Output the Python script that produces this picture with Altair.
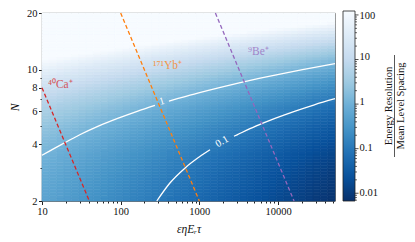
import altair as alt
import pandas as pd
import numpy as np

SERIF = "Liberation Serif"

# ---------------- data ----------------
x_range = [10, 53000]
n_range = [2, 20]

# log10(ratio) at the left edge (x = 10), one value per N row (bottom -> top)
row_level = [-0.264, -0.252, -0.240, -0.227, -0.212, -0.197, -0.181, -0.164,
             -0.146, -0.127, -0.107, -0.085, -0.063, -0.039, -0.014, 0.013,
             0.041, 0.070, 0.100, 0.132, 0.166, 0.202, 0.239, 0.277,
             0.318, 0.360, 0.405, 0.451, 0.500, 0.550, 0.603, 0.659,
             0.716, 0.777, 0.839, 0.905, 0.973, 1.044, 1.119, 1.196,
             1.277, 1.360, 1.448, 1.539, 1.634, 1.732, 1.835, 1.941,
             2.052, 2.168, 2.288, 2.413, 2.543, 2.678, 2.818, 2.964,
             3.116, 3.273, 3.437, 3.607, 3.784, 3.968, 4.158, 4.356]
# change of log10(ratio) per column, relative to the left edge (left -> right)
col_offset = [-0.023, -0.070, -0.117, -0.163, -0.210, -0.256, -0.303, -0.350,
              -0.396, -0.443, -0.490, -0.536, -0.583, -0.629, -0.676, -0.723,
              -0.769, -0.816, -0.862, -0.909, -0.956, -1.002, -1.049, -1.096,
              -1.142, -1.189, -1.235, -1.282, -1.329, -1.375, -1.422, -1.469,
              -1.515, -1.562, -1.608, -1.655, -1.702, -1.748, -1.795, -1.842]

# contour "1"
c1a_x = [10, 17.8, 30.2, 52, 91.5, 162, 273]
c1a_n = [3.5, 4.0, 4.5, 5.0, 5.5, 6.0, 6.45]
c1b_x = [411, 525, 953, 1746, 3210, 5935, 11000, 20500, 53000]
c1b_n = [6.8, 7.0, 7.5, 8.0, 8.5, 9.0, 9.5, 10.0, 10.75]
# contour "0.1"
c2a_x = [288, 425, 660, 1067, 1365]
c2a_n = [2.0, 2.5, 3.0, 3.5, 3.75]
c2b_x = [2755, 3020, 5215, 9150, 16200, 29000, 53000]
c2b_n = [4.42, 4.5, 5.0, 5.5, 6.0, 6.5, 7.0]
contour_labels = ["1", "0.1"]
contour_label_x = [335, 1941]
contour_label_n = [6.78, 4.14]
contour_label_angle = [343, 330]

# ion lines (x * N constant)
ions = ["⁴⁰Ca⁺", "¹⁷¹Yb⁺", "⁹Be⁺"]
ion_colors = ["#d62728", "#ff7f0e", "#9467bd"]
ion_x_start = [40, 1000, 16000]
ion_n_start = [2, 2, 2]
ion_x_end = [10, 100, 1600]
ion_n_end = [8, 20, 20]
ion_label_x = [11.9, 258, 4160]
ion_label_n = [7.96, 10.02, 11.92]

x_major = [10, 100, 1000, 10000]
x_minor = [20, 30, 40, 50, 60, 70, 80, 90, 200, 300, 400, 500, 600, 700, 800, 900,
           2000, 3000, 4000, 5000, 6000, 7000, 8000, 9000, 20000, 30000, 40000, 50000]
n_major = [2, 4, 6, 8, 10, 20]
n_minor = [3, 5, 7, 9]
cbar_ticks = [0.01, 0.1, 1, 10, 100]
cbar_minor = [0.007, 0.008, 0.009, 0.02, 0.03, 0.04, 0.05, 0.06, 0.07, 0.08, 0.09,
              0.2, 0.3, 0.4, 0.5, 0.6, 0.7, 0.8, 0.9, 2, 3, 4, 5, 6, 7, 8, 9,
              20, 30, 40, 50, 60, 70, 80, 90]
cbar_domain = [0.0067, 0.02228, 0.07413, 0.2462, 0.8185, 2.723, 9.057, 30.06, 100]
cbar_colors = ['#08306b', '#08519c', '#2171b5', '#4292c6', '#6baed6',
               '#9ecae1', '#c6dbef', '#deebf7', '#f7fbff']

# ---------------- build tables ----------------
x_edges = np.logspace(np.log10(x_range[0]), np.log10(x_range[1]), len(col_offset) + 1)
n_edges = np.logspace(np.log10(n_range[0]), np.log10(n_range[1]), len(row_level) + 1)
cells = []
for i, rl in enumerate(row_level):
    for j, co in enumerate(col_offset):
        cells.append(dict(x=x_edges[j], x2=x_edges[j + 1], n=n_edges[i], n2=n_edges[i + 1],
                          v=10 ** (rl + co)))
cells = pd.DataFrame(cells)

contours = pd.concat([
    pd.DataFrame(dict(x=c1a_x, n=c1a_n, seg="1a")),
    pd.DataFrame(dict(x=c1b_x, n=c1b_n, seg="1b")),
    pd.DataFrame(dict(x=c2a_x, n=c2a_n, seg="2a")),
    pd.DataFrame(dict(x=c2b_x, n=c2b_n, seg="2b")),
])
clabels = pd.DataFrame(dict(t=contour_labels, x=contour_label_x, n=contour_label_n,
                            a=contour_label_angle))
ion_lines = pd.concat([
    pd.DataFrame(dict(ion=ions, x=ion_x_start, n=ion_n_start)),
    pd.DataFrame(dict(ion=ions, x=ion_x_end, n=ion_n_end)),
])
ion_labels = pd.DataFrame(dict(ion=ions, x=ion_label_x, n=ion_label_n))
cticks = pd.concat([
    pd.DataFrame(dict(v=cbar_ticks, kind="major")),
    pd.DataFrame(dict(v=cbar_minor, kind="minor")),
])

xs = alt.Scale(type="log", domain=x_range, nice=False)
ys = alt.Scale(type="log", domain=n_range, nice=False)
cscale = dict(type="log", domain=cbar_domain, range=cbar_colors, clamp=True, interpolate="rgb")
ion_scale = alt.Scale(domain=ions, range=ion_colors)

heat = alt.Chart(cells).mark_rect(strokeWidth=0.6).encode(
    x=alt.X("x:Q", scale=xs, axis=alt.Axis(
        values=x_major, format="d", title="εηEᵣτ", titleFontStyle="italic",
        titleFont=SERIF, titleFontSize=11.5, titleFontWeight="normal", titleColor="#111",
        labelFont=SERIF, labelFontSize=10.5, labelColor="#111", labelPadding=2,
        tickSize=3.5, tickColor="#222", domain=False, grid=False, titlePadding=6,
        labelFlush=False, orient="bottom")),
    x2="x2:Q",
    y=alt.Y("n:Q", scale=ys, axis=alt.Axis(
        values=n_major, format="d", title="N", titleFontStyle="italic",
        titleFont=SERIF, titleFontSize=11.5, titleFontWeight="normal", titleColor="#111",
        labelFont=SERIF, labelFontSize=10.5, labelColor="#111", labelPadding=1.5,
        tickSize=3.5, tickColor="#222", domain=False, grid=False, titlePadding=6,
        labelFlush=False, orient="left")),
    y2="n2:Q",
    color=alt.Color("v:Q", scale=alt.Scale(**cscale), legend=alt.Legend(
        orient="none", legendX=301, legendY=-2, direction="vertical",
        gradientLength=190, gradientThickness=12, values=cbar_ticks, format="~g",
        title=None, labelFont=SERIF, labelFontSize=10.5, labelColor="#111",
        labelOffset=4.5, gradientStrokeColor="#222", gradientStrokeWidth=0.8)),
    stroke=alt.Stroke("v:Q", scale=alt.Scale(**cscale), legend=None),
)

lines = alt.Chart(contours).mark_line(color="white", strokeWidth=1.3, interpolate="monotone").encode(
    x=alt.X("x:Q", scale=xs, axis=alt.Axis(values=x_minor, labels=False, tickSize=2,
                                           tickColor="#222", domain=False, grid=False,
                                           title=None, orient="bottom")),
    y=alt.Y("n:Q", scale=ys, axis=alt.Axis(values=n_minor, labels=False, tickSize=2,
                                           tickColor="#222", domain=False, grid=False,
                                           title=None, orient="left")),
    detail="seg:N",
)

clab = alt.Chart(clabels).mark_text(color="white", font=SERIF, fontSize=10.5,
                                    baseline="middle", align="center").encode(
    x=alt.X("x:Q", scale=xs, axis=None),
    y=alt.Y("n:Q", scale=ys, axis=None),
    text="t:N",
    angle=alt.Angle("a:Q", scale=None),
)

ionl = alt.Chart(ion_lines).mark_line(strokeDash=[4, 2.5], strokeWidth=1.3).encode(
    x=alt.X("x:Q", scale=xs, axis=None),
    y=alt.Y("n:Q", scale=ys, axis=None),
    color=alt.Color("ion:N", scale=ion_scale, legend=None),
    detail="ion:N",
)

ionlab = alt.Chart(ion_labels).mark_text(font=SERIF, fontSize=11.5, align="left",
                                         baseline="alphabetic", opacity=0.75).encode(
    x=alt.X("x:Q", scale=xs, axis=None),
    y=alt.Y("n:Q", scale=ys, axis=None),
    text="ion:N",
    color=alt.Color("ion:N", scale=ion_scale, legend=None),
)

# colour-bar tick marks (same log mapping as the gradient: 0.0067 at bottom, 100 at top)
cb_y = alt.Scale(type="log", domain=[0.0067, 110.6], nice=False)
ctick = alt.Chart(cticks).mark_rule(color="#222", strokeWidth=0.7).encode(
    y=alt.Y("v:Q", scale=cb_y, axis=None),
    x=alt.value(313),
    x2=alt.value(315),
).transform_filter(alt.datum.kind == "minor")
ctick_major = alt.Chart(cticks).mark_rule(color="#222", strokeWidth=0.8).encode(
    y=alt.Y("v:Q", scale=cb_y, axis=None),
    x=alt.value(313),
    x2=alt.value(316.5),
).transform_filter(alt.datum.kind == "major")

num = alt.Chart(pd.DataFrame(dict(t=["Energy Resolution"]))).mark_text(
    font=SERIF, fontSize=10.5, angle=270, align="center", baseline="middle", color="#111"
).encode(x=alt.value(346.5), y=alt.value(93), text="t:N")
den = alt.Chart(pd.DataFrame(dict(t=["Mean Level Spacing"]))).mark_text(
    font=SERIF, fontSize=10.5, angle=270, align="center", baseline="middle", color="#111"
).encode(x=alt.value(359), y=alt.value(93), text="t:N")
bar = alt.Chart(pd.DataFrame(dict(t=[0]))).mark_rule(color="#111", strokeWidth=0.7).encode(
    x=alt.value(352.5), y=alt.value(42), y2=alt.value(144))

chart = alt.layer(heat, lines, clab, ionl, ionlab, ctick, ctick_major, num, den, bar).resolve_axis(
    x="independent", y="independent"
).resolve_scale(color="independent", y="independent").properties(
    width=293, height=188,
    autosize=alt.AutoSizeParams(type="none"),
    padding={"left": 34, "top": 5, "right": 72, "bottom": 37},
    background="white",
).configure_view(stroke="#222", strokeWidth=0.8)

chart.save("out.html", embed_options={"renderer": "svg", "actions": False})
